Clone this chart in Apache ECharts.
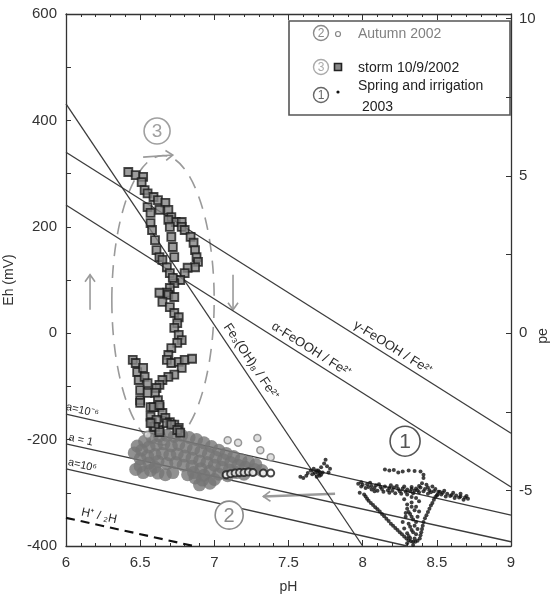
<!DOCTYPE html>
<html><head><meta charset="utf-8">
<script src="https://cdn.jsdelivr.net/npm/echarts@6/dist/echarts.min.js"></script>
<style>html,body{margin:0;padding:0;background:#fff}#c{width:555px;height:600px}</style>
</head><body><div id="c"></div>
<script>
// ---------- data ----------
const xTickLabels = [6, 6.5, 7, 7.5, 8, 8.5, 9];
const yTickLabels = [-400, -200, 0, 200, 400, 600];
const peTickLabels = [-5, 0, 5, 10];
const peTicks = [-5, -2.5, 0, 2.5, 5, 7.5, 10];

const stormData = [
 [6.42,303],[6.47,297],[6.52,294],[6.51,284],[6.53,269],[6.55,263],[6.59,256],[6.62,250],[6.67,245],[6.69,232],
 [6.71,218],[6.74,209],[6.78,209],[6.78,200],[6.80,194],[6.84,181],[6.86,170],[6.87,156],[6.88,143],[6.89,134],
 [6.87,124],[6.82,123],[6.80,113],[6.77,100],[6.73,94],[6.70,85],[6.68,76],
 [6.55,237],[6.57,226],[6.57,207],[6.58,194],[6.60,175],[6.61,156],[6.63,143],[6.65,138],[6.68,124],[6.70,113],[6.72,104],
 [6.63,232],[6.69,213],[6.70,200],[6.71,181],[6.72,162],[6.73,143],
 [6.63,76],[6.69,72],[6.73,68],[6.65,59],[6.70,49],[6.73,38],[6.76,30],[6.75,19],[6.73,10],[6.76,-3],[6.78,-13],
 [6.75,-18],[6.71,-28],[6.69,-41],[6.68,-50],[6.71,-56],[6.76,-54],[6.80,-50],[6.85,-48],[6.78,-65],[6.73,-78],
 [6.69,-82],[6.65,-88],[6.63,-97],[6.61,-103],[6.60,-112],[6.62,-126],[6.63,-139],[6.65,-150],[6.67,-159],[6.70,-167],
 [6.73,-172],[6.76,-178],
 [6.45,-50],[6.47,-56],[6.48,-73],[6.49,-88],[6.50,-107],[6.50,-126],[6.52,-65],[6.53,-82],[6.55,-94],[6.55,-112],
 [6.57,-157],[6.58,-167],[6.57,-139],[6.59,-176],[6.63,-182],
 [6.50,-131],[6.59,-139],[6.63,-135],[6.61,-163],[6.60,-176],[6.63,-186],[6.68,-169],[6.71,-172],[6.75,-182],[6.77,-187],[6.57,-169]
];

const autumnData = [
 [6.48,-212],[6.53,-203],[6.58,-196],[6.63,-193],[6.68,-192],[6.73,-194],[6.78,-192],[6.83,-196],[6.88,-200],[6.93,-206],
 [6.98,-213],[7.03,-220],[7.08,-226],[7.13,-232],[7.18,-238],[7.23,-242],[7.28,-247],
 [6.46,-225],[6.51,-220],[6.56,-214],[6.61,-210],[6.66,-208],[6.71,-212],[6.76,-209],[6.81,-214],[6.86,-218],[6.91,-222],
 [6.96,-227],[7.01,-233],[7.06,-238],[7.11,-243],[7.16,-248],[7.21,-252],[7.27,-256],[7.32,-258],
 [6.50,-236],[6.55,-231],[6.60,-228],[6.65,-226],[6.70,-229],[6.75,-227],[6.80,-231],[6.85,-235],[6.90,-240],[6.95,-243],
 [7.00,-248],[7.05,-252],[7.10,-257],[7.15,-262],[7.20,-265],
 [6.56,-244],[6.62,-241],[6.68,-245],[6.74,-243],[6.79,-248],[6.85,-250],[6.91,-255],[6.97,-259],[7.03,-265],[7.09,-268],
 [6.47,-256],[6.52,-262],[6.57,-258],[6.62,-263],[6.67,-266],[6.72,-262],[6.50,-250],[6.60,-252],
 [6.82,-266],[6.87,-272],[6.92,-276],[6.97,-282],[6.86,-262],[6.93,-267],[7.00,-275],[6.90,-285]
];
const autumnOpenData = [[6.55,-191],[7.09,-201],[7.16,-206],[7.29,-197],[7.31,-220],[7.38,-233]];
const autumnDarkData = [[7.08,-266],[7.11,-264],[7.14,-263],[7.17,-262],[7.20,-262],[7.23,-261],[7.26,-262],[7.33,-263],[7.38,-263]];

const springData = [
 [7.58,-270],[7.62,-268],[7.66,-265],[7.68,-262],[7.70,-258],[7.72,-252],[7.74,-245],[7.75,-238],[7.76,-250],[7.78,-255],
 [7.71,-268],[7.67,-255],[7.73,-262],[7.69,-270],[7.65,-258],[7.77,-262],
 [7.70,-264],[7.72,-266],[7.69,-258],[7.71,-261],[7.60,-272],[7.63,-263],
 [8.15,-256],[8.18,-258],[8.21,-257],[8.24,-262],[8.27,-260],[8.31,-258],[8.35,-259],[8.39,-260],[8.41,-266],[8.41,-272],
 [7.97,-283],[8.00,-285],[8.03,-284],[8.06,-287],[8.09,-286],[8.12,-289],[8.15,-288],[8.18,-291],[8.21,-290],[8.24,-293],
 [8.27,-292],[8.30,-294],[8.33,-293],[8.36,-292],[8.39,-290],[8.42,-293],[8.45,-295],[8.48,-297],[8.51,-298],[8.54,-300],
 [8.57,-302],[8.60,-304],[8.63,-305],[8.66,-307],[8.69,-309],[8.71,-311],
 [8.02,-291],[8.06,-294],[8.10,-296],[8.14,-298],[8.18,-300],[8.22,-301],[8.26,-302],[8.30,-303],[8.34,-301],[8.38,-299],
 [8.44,-302],[8.50,-305],[8.56,-307],[8.62,-310],[8.68,-313],[8.40,-282],[8.43,-285],[8.47,-288],
 [7.99,-288],[8.04,-289],[8.08,-291],[8.13,-293],[8.17,-295],[8.20,-296],[8.25,-297],[8.29,-298],[8.32,-297],[8.35,-296],
 [8.37,-295],[8.41,-297],[8.46,-299],[8.53,-303],[8.59,-306],[8.65,-309],[8.70,-306],[8.66,-302],[8.61,-300],[8.55,-296],
 [8.49,-293],[8.44,-290],[8.38,-287],[8.33,-289],[8.28,-288],[8.23,-287],[8.19,-286],[8.11,-284],[8.05,-281],[7.99,-280],
 [7.98,-300],[8.01,-303],[8.08,-297],
 [8.02,-307],[8.04,-315],[8.07,-323],[8.10,-331],[8.13,-340],[8.16,-349],[8.19,-358],[8.22,-366],[8.25,-374],[8.28,-382],
 [8.31,-389],[8.34,-392],[8.37,-390],
 [8.03,-311],[8.055,-319],[8.085,-327],[8.115,-335],[8.145,-344],[8.175,-353],[8.205,-362],[8.235,-370],[8.265,-378],
 [8.295,-386],[8.325,-391],[8.355,-392],
 [8.39,-380],[8.40,-368],[8.41,-355],[8.43,-342],[8.45,-330],[8.47,-319],[8.49,-308],[8.52,-298],
 [8.385,-386],[8.395,-374],[8.405,-362],[8.42,-348],[8.44,-336],[8.46,-324],[8.48,-313],[8.505,-303],
 [8.30,-330],[8.32,-340],[8.34,-350],[8.31,-358],[8.35,-362],[8.33,-370],[8.30,-376],[8.36,-378],[8.28,-367],[8.37,-345],
 [8.29,-345],[8.33,-318],[8.36,-326],[8.38,-335],[8.27,-355],[8.32,-385],[8.35,-386],[8.30,-395],[8.34,-398],
 [8.31,-336],[8.33,-345],[8.36,-355],[8.32,-364],[8.34,-374],[8.31,-381],[8.29,-338],[8.35,-333],[8.37,-368],[8.33,-326],
 [8.30,-322],[8.36,-310],[8.33,-308],[8.28,-312],[8.38,-316]
];

// equilibrium lines [pH, Eh]
const lineGammaFeOOH = [[6,340],[9,-188]];
const lineAlphaFeOOH = [[6,241],[9,-289]];
const lineFeOH = [[6,431],[8,-400]];
const lineA6neg = [[6,-152],[9,-342]];
const lineA1 = [[6,-208],[9,-392]];
const lineA6 = [[6,-255],[8.3,-400]];
const lineH2 = [[6,-347],[6.86,-400]];

// ---------- chart ----------
const FONT = '"Liberation Sans", Arial, Helvetica, sans-serif';
const AX = '#333';
const LN = '#3c3c3c';
const GR = '#9a9a9a';
const chart = echarts.init(document.getElementById('c'));

function lineSeries(d, extra) {
  return Object.assign({type:'line', data:d, symbol:'none', silent:true, z:1,
    lineStyle:{color:LN, width:1.3}}, extra || {});
}
const tickStyle = {color:AX, width:1};
const option = {
  animation:false,
  textStyle:{fontFamily:FONT},
  grid:{left:66, right:44, top:14, bottom:54, outerBoundsMode:'none', containLabel:false},
  legend:[
    {data:['Autumn 2002'], left:348, top:20, icon:'none', itemWidth:0, selectedMode:false, z:10,
     textStyle:{fontFamily:FONT, fontSize:14, color:'#808080', lineHeight:18}},
    {data:['storm 10/9/2002'], left:348, top:54, icon:'none', itemWidth:0, selectedMode:false, z:10,
     textStyle:{fontFamily:FONT, fontSize:14, color:'#222', lineHeight:18}},
    {data:['Spring and irrigation 2003'], left:348, top:71, icon:'none', itemWidth:0, selectedMode:false, z:10,
     formatter:()=> 'Spring and irrigation\n 2003',
     textStyle:{fontFamily:FONT, fontSize:14, color:'#222', lineHeight:21}}
  ],
  xAxis:[
    {type:'value', min:6, max:9, interval:0.5, position:'bottom',
     name:'pH', nameLocation:'middle', nameGap:34, nameTextStyle:{fontFamily:FONT, fontSize:14, color:AX},
     axisLine:{onZero:false, lineStyle:{color:AX, width:1.3}},
     axisTick:{inside:true, length:6, lineStyle:tickStyle},
     minorTick:{show:true, splitNumber:5, length:3, lineStyle:tickStyle},
     axisLabel:{margin:9, fontSize:15, color:AX, fontFamily:FONT, customValues:xTickLabels},
     splitLine:{show:false}},
    {type:'value', min:6, max:9, interval:0.5, position:'top',
     axisLine:{onZero:false, lineStyle:{color:AX, width:1.3}},
     axisTick:{inside:true, length:6, lineStyle:tickStyle},
     minorTick:{show:true, splitNumber:5, length:3, lineStyle:tickStyle},
     axisLabel:{show:false}, splitLine:{show:false}}
  ],
  yAxis:[
    {type:'value', min:-400, max:600, interval:200,
     name:'Eh (mV)', nameLocation:'middle', nameGap:45, nameRotate:90,
     nameTextStyle:{fontFamily:FONT, fontSize:14, color:AX},
     axisLine:{show:true, onZero:false, lineStyle:{color:AX, width:1.3}},
     axisTick:{show:true, inside:true, length:5, lineStyle:tickStyle},
     minorTick:{show:true, splitNumber:2, length:5, lineStyle:tickStyle},
     axisLabel:{margin:9, fontSize:15, color:AX, fontFamily:FONT, customValues:yTickLabels},
     splitLine:{show:false}},
    {type:'value', position:'right', min:-400/59.16, max:600/59.16,
     axisLine:{show:true, onZero:false, lineStyle:{color:AX, width:1.3}},
     axisTick:{show:true, inside:true, length:5, lineStyle:tickStyle, customValues:peTicks},
     axisLabel:{margin:8, fontSize:15, color:AX, fontFamily:FONT, customValues:peTickLabels},
     splitLine:{show:false}}
  ],
  series:[
    lineSeries(lineGammaFeOOH), lineSeries(lineAlphaFeOOH), lineSeries(lineFeOH),
    lineSeries(lineA6neg), lineSeries(lineA1), lineSeries(lineA6),
    lineSeries(lineH2, {lineStyle:{color:'#111', width:2.2, type:[9,6]}}),
    {type:'scatter', name:'Autumn 2002', data:autumnData, symbol:'circle', symbolSize:13, z:3,
     itemStyle:{color:'#767676', borderColor:'#767676', borderWidth:0}},
    {type:'scatter', name:'Autumn 2002', data:autumnOpenData, symbol:'circle', symbolSize:7, z:3,
     itemStyle:{color:'#d8d8d8', borderColor:'#808080', borderWidth:1.5}},
    {type:'scatter', name:'Autumn 2002', data:autumnDarkData, symbol:'circle', symbolSize:7, z:3,
     itemStyle:{color:'#ffffff', borderColor:'#1a1a1a', borderWidth:2}},
    {type:'scatter', name:'storm 10/9/2002', data:stormData, symbol:'rect', symbolSize:8, z:4,
     itemStyle:{color:'#858585', borderColor:'#1a1a1a', borderWidth:1.8}},
    {type:'scatter', name:'Spring and irrigation 2003', data:springData, symbol:'circle', symbolSize:4, z:5,
     itemStyle:{color:'#111'}}
  ]
};
chart.setOption(option);

// ---------- annotations (data-anchored) ----------
const P = (x,y)=>chart.convertToPixel({xAxisIndex:0, yAxisIndex:0}, [x,y]);
const lineLabels = [
  {text:'γ-FeOOH / Fe²⁺', line:lineGammaFeOOH, at:8.17, off:9, size:13},
  {text:'α-FeOOH / Fe²⁺', line:lineAlphaFeOOH, at:7.62, off:9, size:13},
  {text:'Fe₃(OH)₈ / Fe²⁺', line:lineFeOH, at:7.19, off:10, size:13},
  {text:'a=10⁻⁶', line:lineA6neg, at:6.10, off:7, size:11},
  {text:'a = 1', line:lineA1, at:6.09, off:7, size:11},
  {text:'a=10⁶', line:lineA6, at:6.10, off:7, size:11},
  {text:'H⁺ / ₂H', line:lineH2, at:6.21, off:9, size:12}
];
const circledNums = [
  {n:'3', at:[6.614,380], r:13, color:'#a0a0a0'},
  {n:'2', at:[7.10,-342], r:14, color:'#8a8a8a'},
  {n:'1', at:[8.286,-203], r:15, color:'#555'}
];
const arrowSpecs = [
  {from:[6.162,44], to:[6.162,110]},
  {from:[7.126,110], to:[7.126,44]},
  {from:[7.814,-302], to:[7.33,-307], w:2.5},
  {from:[6.52,331], to:[6.72,335]}
];
const ellipseSpec = {pH:6.654, eh:62, dpH:0.345, deh:272};

const g = [];
lineLabels.forEach(L=>{
  const [a,b] = L.line;
  const eh = a[1] + (b[1]-a[1])*(L.at-a[0])/(b[0]-a[0]);
  const p = P(L.at, eh), pa = P(a[0],a[1]), pb = P(b[0],b[1]);
  let dx = pb[0]-pa[0], dy = pb[1]-pa[1]; const len = Math.hypot(dx,dy); dx/=len; dy/=len;
  const nx = dy, ny = -dx;
  g.push({type:'text', x:p[0]+nx*L.off, y:p[1]+ny*L.off, rotation:-Math.atan2(dy,dx), z:10,
    style:{text:L.text, x:0, y:0, align:'center', verticalAlign:'middle', fill:'#2a2a2a',
      font:L.size+'px '+FONT}});
});
circledNums.forEach(c=>{
  const p = P(c.at[0], c.at[1]);
  g.push({type:'circle', shape:{cx:p[0], cy:p[1], r:c.r}, z:10, style:{fill:'#fff', stroke:c.color, lineWidth:1.6}});
  g.push({type:'text', x:p[0], y:p[1]+1, z:11, style:{text:c.n, align:'center', verticalAlign:'middle', fill:c.color, font:(c.r+6)+'px '+FONT}});
});
const ec = P(ellipseSpec.pH, ellipseSpec.eh);
const erx = P(ellipseSpec.pH+ellipseSpec.dpH, ellipseSpec.eh)[0]-ec[0];
const ery = P(ellipseSpec.pH, ellipseSpec.eh-ellipseSpec.deh)[1]-ec[1];
g.push({type:'ellipse', shape:{cx:ec[0], cy:ec[1], rx:erx, ry:ery}, z:0, silent:true,
  style:{fill:'none', stroke:GR, lineWidth:1.6, lineDash:[13,9]}});
arrowSpecs.forEach(A=>{
  const p0 = P(A.from[0],A.from[1]), p1 = P(A.to[0],A.to[1]);
  let dx = p1[0]-p0[0], dy = p1[1]-p0[1]; const len = Math.hypot(dx,dy); dx/=len; dy/=len;
  const h = 7, wd = 5;
  const b1 = [p1[0]-dx*h + dy*wd, p1[1]-dy*h - dx*wd];
  const b2 = [p1[0]-dx*h - dy*wd, p1[1]-dy*h + dx*wd];
  g.push({type:'line', shape:{x1:p0[0], y1:p0[1], x2:p1[0], y2:p1[1]}, z:1, style:{stroke:GR, lineWidth:A.w||1.6}});
  g.push({type:'polyline', shape:{points:[b1,p1,b2]}, z:1, style:{stroke:GR, lineWidth:1.6, fill:'none'}});
});
// legend box and markers
g.push({type:'rect', shape:{x:289, y:21, width:221, height:94}, z:0, style:{fill:'#fff', stroke:'#555', lineWidth:1.6}});
const legendMarks = [
  {n:'2', y:33, color:'#8a8a8a'},
  {n:'3', y:67, color:'#aaaaaa'},
  {n:'1', y:95, color:'#666'}
];
legendMarks.forEach(m=>{
  g.push({type:'circle', shape:{cx:321, cy:m.y, r:7.5}, z:9, style:{fill:'#fff', stroke:m.color, lineWidth:1.4}});
  g.push({type:'text', x:321, y:m.y+1, z:9, style:{text:m.n, align:'center', verticalAlign:'middle', fill:m.color, font:'12px '+FONT}});
});
g.push({type:'circle', shape:{cx:338, cy:34, r:2.5}, z:9, style:{fill:'#fff', stroke:'#888', lineWidth:1.2}});
g.push({type:'rect', shape:{x:334.5, y:63.5, width:7, height:7}, z:9, style:{fill:'#888', stroke:'#222', lineWidth:1.6}});
g.push({type:'circle', shape:{cx:338, cy:92, r:1.6}, z:9, style:{fill:'#111'}});
// right axis name
g.push({type:'text', x:543, y:336, rotation:Math.PI/2, z:9, style:{text:'pe', align:'center', verticalAlign:'middle', fill:AX, font:'14px '+FONT}});

chart.setOption({graphic:{elements:g}});
</script></body></html>
